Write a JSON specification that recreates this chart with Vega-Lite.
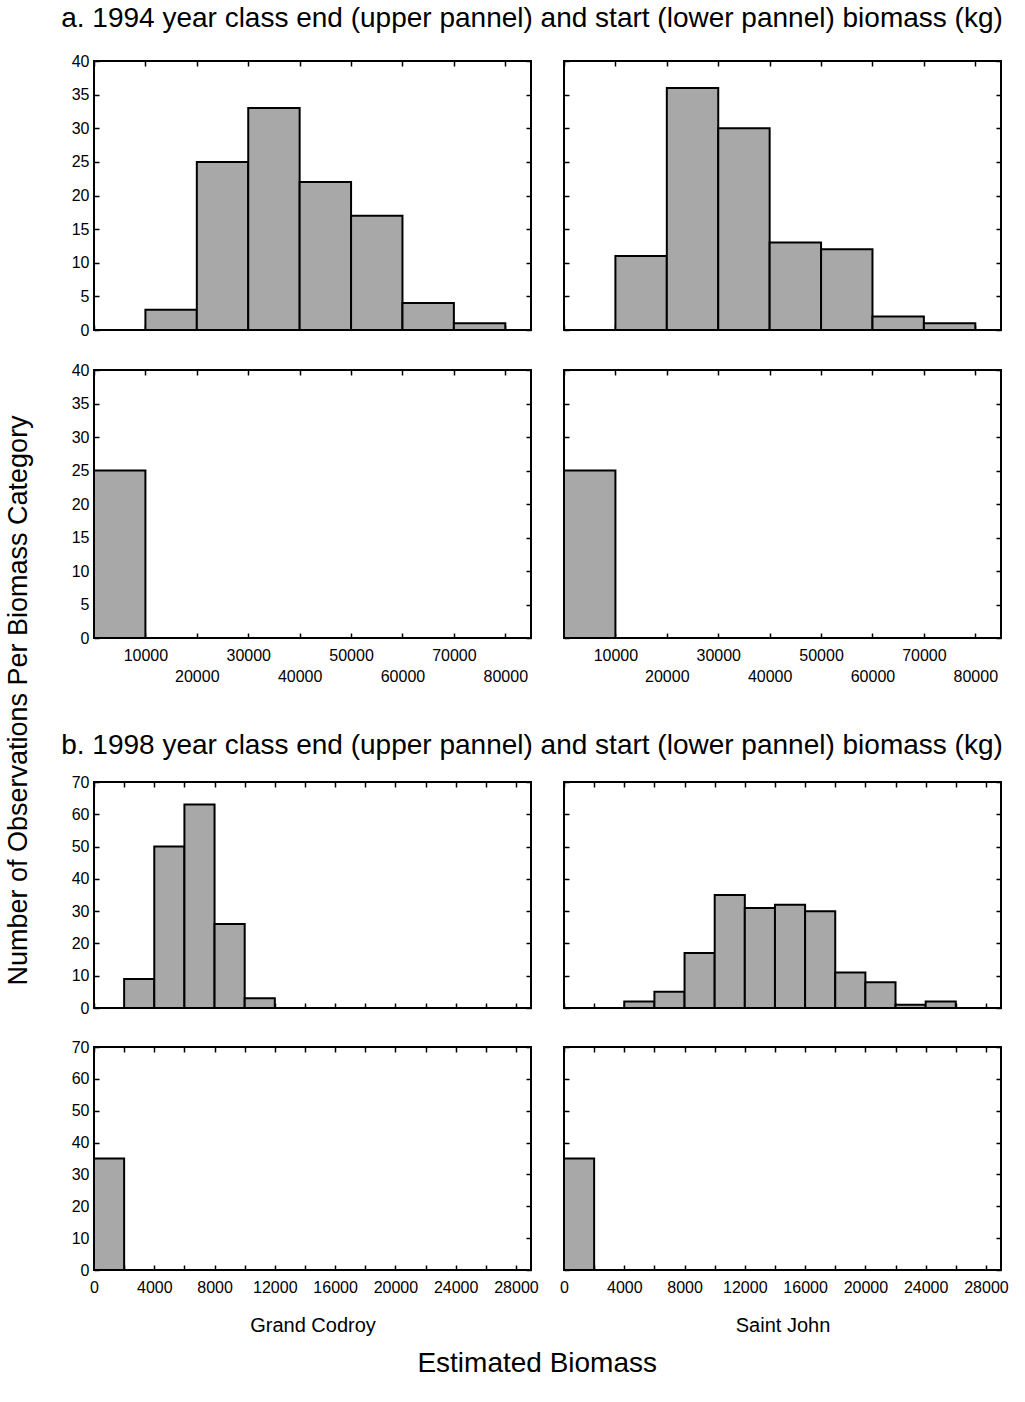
{
  "$schema": "https://vega.github.io/schema/vega-lite/v6.json",
  "padding": {"left": 5, "top": 5, "right": 10, "bottom": 5},
  "background": "white",
  "datasets": {
    "h": [
      {"p": "a1", "lo": 10000, "hi": 20000, "n": 3},
      {"p": "a1", "lo": 20000, "hi": 30000, "n": 25},
      {"p": "a1", "lo": 30000, "hi": 40000, "n": 33},
      {"p": "a1", "lo": 40000, "hi": 50000, "n": 22},
      {"p": "a1", "lo": 50000, "hi": 60000, "n": 17},
      {"p": "a1", "lo": 60000, "hi": 70000, "n": 4},
      {"p": "a1", "lo": 70000, "hi": 80000, "n": 1},
      {"p": "a2", "lo": 10000, "hi": 20000, "n": 11},
      {"p": "a2", "lo": 20000, "hi": 30000, "n": 36},
      {"p": "a2", "lo": 30000, "hi": 40000, "n": 30},
      {"p": "a2", "lo": 40000, "hi": 50000, "n": 13},
      {"p": "a2", "lo": 50000, "hi": 60000, "n": 12},
      {"p": "a2", "lo": 60000, "hi": 70000, "n": 2},
      {"p": "a2", "lo": 70000, "hi": 80000, "n": 1},
      {"p": "a3", "lo": 0, "hi": 10000, "n": 25},
      {"p": "a4", "lo": 0, "hi": 10000, "n": 25},
      {"p": "b1", "lo": 2000, "hi": 4000, "n": 9},
      {"p": "b1", "lo": 4000, "hi": 6000, "n": 50},
      {"p": "b1", "lo": 6000, "hi": 8000, "n": 63},
      {"p": "b1", "lo": 8000, "hi": 10000, "n": 26},
      {"p": "b1", "lo": 10000, "hi": 12000, "n": 3},
      {"p": "b2", "lo": 4000, "hi": 6000, "n": 2},
      {"p": "b2", "lo": 6000, "hi": 8000, "n": 5},
      {"p": "b2", "lo": 8000, "hi": 10000, "n": 17},
      {"p": "b2", "lo": 10000, "hi": 12000, "n": 35},
      {"p": "b2", "lo": 12000, "hi": 14000, "n": 31},
      {"p": "b2", "lo": 14000, "hi": 16000, "n": 32},
      {"p": "b2", "lo": 16000, "hi": 18000, "n": 30},
      {"p": "b2", "lo": 18000, "hi": 20000, "n": 11},
      {"p": "b2", "lo": 20000, "hi": 22000, "n": 8},
      {"p": "b2", "lo": 22000, "hi": 24000, "n": 1},
      {"p": "b2", "lo": 24000, "hi": 26000, "n": 2},
      {"p": "b3", "lo": 0, "hi": 2000, "n": 35},
      {"p": "b4", "lo": 0, "hi": 2000, "n": 35}
    ]
  },
  "title": {"text": "Estimated Biomass", "orient": "bottom", "anchor": "middle", "fontSize": 28, "offset": 14, "dx": 30},
  "vconcat": [
    {
      "title": {"text": "Number of Observations Per Biomass Category", "orient": "left", "anchor": "middle", "fontSize": 27, "offset": 28, "dx": -30},
      "spacing": 47,
      "vconcat": [
        {
          "title": {"text": "a. 1994 year class end (upper pannel) and start (lower pannel) biomass (kg)", "anchor": "start", "fontSize": 28, "offset": 19, "dx": -9},
          "spacing": 22,
          "vconcat": [
            {
              "spacing": 33, "bounds": "flush",
              "hconcat": [
                {
                  "width": 437, "height": 269,
                  "data": {"name": "h"},
                  "transform": [{"filter": "datum.p == 'a1'"}],
                  "layer": [
                    {"mark": {"type": "bar", "fill": "#a8a8a8", "stroke": "black", "strokeWidth": 2},
                     "encoding": {
                       "x": {"field": "lo", "type": "quantitative", "scale": {"domain": [0, 85000], "nice": false, "zero": false}, "axis": {"values": [0,10000,20000,30000,40000,50000,60000,70000,80000], "labels": false, "title": null}},
                       "x2": {"field": "hi"},
                       "y": {"field": "n", "type": "quantitative", "scale": {"domain": [0, 40], "nice": false}, "axis": {"values": [0,5,10,15,20,25,30,35,40], "title": null}},
                       "y2": {"datum": 0}
                     }},
                    {"mark": {"type": "bar", "opacity": 0},
                     "encoding": {
                       "x": {"field": "lo", "type": "quantitative", "scale": {"domain": [0, 85000], "nice": false, "zero": false}, "axis": {"orient": "top", "values": [0,10000,20000,30000,40000,50000,60000,70000,80000], "labels": false, "title": null}},
                       "x2": {"field": "hi"},
                       "y": {"field": "n", "type": "quantitative", "scale": {"domain": [0, 40], "nice": false}, "axis": {"orient": "right", "values": [0,5,10,15,20,25,30,35,40], "labels": false, "title": null}},
                       "y2": {"datum": 0}
                     }}
                  ],
                  "resolve": {"axis": {"x": "independent", "y": "independent"}}
                },
                {
                  "width": 437, "height": 269,
                  "data": {"name": "h"},
                  "transform": [{"filter": "datum.p == 'a2'"}],
                  "layer": [
                    {"mark": {"type": "bar", "fill": "#a8a8a8", "stroke": "black", "strokeWidth": 2},
                     "encoding": {
                       "x": {"field": "lo", "type": "quantitative", "scale": {"domain": [0, 85000], "nice": false, "zero": false}, "axis": {"values": [0,10000,20000,30000,40000,50000,60000,70000,80000], "labels": false, "title": null}},
                       "x2": {"field": "hi"},
                       "y": {"field": "n", "type": "quantitative", "scale": {"domain": [0, 40], "nice": false}, "axis": {"values": [0,5,10,15,20,25,30,35,40], "labels": false, "title": null}},
                       "y2": {"datum": 0}
                     }},
                    {"mark": {"type": "bar", "opacity": 0},
                     "encoding": {
                       "x": {"field": "lo", "type": "quantitative", "scale": {"domain": [0, 85000], "nice": false, "zero": false}, "axis": {"orient": "top", "values": [0,10000,20000,30000,40000,50000,60000,70000,80000], "labels": false, "title": null}},
                       "x2": {"field": "hi"},
                       "y": {"field": "n", "type": "quantitative", "scale": {"domain": [0, 40], "nice": false}, "axis": {"orient": "right", "values": [0,5,10,15,20,25,30,35,40], "labels": false, "title": null}},
                       "y2": {"datum": 0}
                     }}
                  ],
                  "resolve": {"axis": {"x": "independent", "y": "independent"}}
                }
              ]
            },
            {
              "spacing": 33, "bounds": "flush",
              "hconcat": [
                {
                  "width": 437, "height": 268,
                  "data": {"name": "h"},
                  "transform": [{"filter": "datum.p == 'a3'"}],
                  "layer": [
                    {"mark": {"type": "bar", "fill": "#a8a8a8", "stroke": "black", "strokeWidth": 2},
                     "encoding": {
                       "x": {"field": "lo", "type": "quantitative", "scale": {"domain": [0, 85000], "nice": false, "zero": false}, "axis": {"values": [0,10000,20000,30000,40000,50000,60000,70000,80000], "format": "d", "labelExpr": "datum.value == 0 ? '' : (datum.value % 20000 == 0 ? ['', datum.label] : datum.label)", "labelLineHeight": 21, "labelPadding": 14, "title": null}},
                       "x2": {"field": "hi"},
                       "y": {"field": "n", "type": "quantitative", "scale": {"domain": [0, 40], "nice": false}, "axis": {"values": [0,5,10,15,20,25,30,35,40], "title": null}},
                       "y2": {"datum": 0}
                     }},
                    {"mark": {"type": "bar", "opacity": 0},
                     "encoding": {
                       "x": {"field": "lo", "type": "quantitative", "scale": {"domain": [0, 85000], "nice": false, "zero": false}, "axis": {"orient": "top", "values": [0,10000,20000,30000,40000,50000,60000,70000,80000], "labels": false, "title": null}},
                       "x2": {"field": "hi"},
                       "y": {"field": "n", "type": "quantitative", "scale": {"domain": [0, 40], "nice": false}, "axis": {"orient": "right", "values": [0,5,10,15,20,25,30,35,40], "labels": false, "title": null}},
                       "y2": {"datum": 0}
                     }}
                  ],
                  "resolve": {"axis": {"x": "independent", "y": "independent"}}
                },
                {
                  "width": 437, "height": 268,
                  "data": {"name": "h"},
                  "transform": [{"filter": "datum.p == 'a4'"}],
                  "layer": [
                    {"mark": {"type": "bar", "fill": "#a8a8a8", "stroke": "black", "strokeWidth": 2},
                     "encoding": {
                       "x": {"field": "lo", "type": "quantitative", "scale": {"domain": [0, 85000], "nice": false, "zero": false}, "axis": {"values": [0,10000,20000,30000,40000,50000,60000,70000,80000], "format": "d", "labelExpr": "datum.value == 0 ? '' : (datum.value % 20000 == 0 ? ['', datum.label] : datum.label)", "labelLineHeight": 21, "labelPadding": 14, "title": null}},
                       "x2": {"field": "hi"},
                       "y": {"field": "n", "type": "quantitative", "scale": {"domain": [0, 40], "nice": false}, "axis": {"values": [0,5,10,15,20,25,30,35,40], "labels": false, "title": null}},
                       "y2": {"datum": 0}
                     }},
                    {"mark": {"type": "bar", "opacity": 0},
                     "encoding": {
                       "x": {"field": "lo", "type": "quantitative", "scale": {"domain": [0, 85000], "nice": false, "zero": false}, "axis": {"orient": "top", "values": [0,10000,20000,30000,40000,50000,60000,70000,80000], "labels": false, "title": null}},
                       "x2": {"field": "hi"},
                       "y": {"field": "n", "type": "quantitative", "scale": {"domain": [0, 40], "nice": false}, "axis": {"orient": "right", "values": [0,5,10,15,20,25,30,35,40], "labels": false, "title": null}},
                       "y2": {"datum": 0}
                     }}
                  ],
                  "resolve": {"axis": {"x": "independent", "y": "independent"}}
                }
              ]
            }
          ]
        },
        {
          "title": {"text": "b. 1998 year class end (upper pannel) and start (lower pannel) biomass (kg)", "anchor": "start", "fontSize": 28, "offset": 13, "dx": -9},
          "spacing": 21,
          "vconcat": [
            {
              "spacing": 33, "bounds": "flush",
              "hconcat": [
                {
                  "width": 437, "height": 226,
                  "data": {"name": "h"},
                  "transform": [{"filter": "datum.p == 'b1'"}],
                  "layer": [
                    {"mark": {"type": "bar", "fill": "#a8a8a8", "stroke": "black", "strokeWidth": 2},
                     "encoding": {
                       "x": {"field": "lo", "type": "quantitative", "scale": {"domain": [0, 29000], "nice": false, "zero": false}, "axis": {"values": [0,2000,4000,6000,8000,10000,12000,14000,16000,18000,20000,22000,24000,26000,28000], "labels": false, "title": null}},
                       "x2": {"field": "hi"},
                       "y": {"field": "n", "type": "quantitative", "scale": {"domain": [0, 70], "nice": false}, "axis": {"values": [0,10,20,30,40,50,60,70], "title": null}},
                       "y2": {"datum": 0}
                     }},
                    {"mark": {"type": "bar", "opacity": 0},
                     "encoding": {
                       "x": {"field": "lo", "type": "quantitative", "scale": {"domain": [0, 29000], "nice": false, "zero": false}, "axis": {"orient": "top", "values": [0,2000,4000,6000,8000,10000,12000,14000,16000,18000,20000,22000,24000,26000,28000], "labels": false, "title": null}},
                       "x2": {"field": "hi"},
                       "y": {"field": "n", "type": "quantitative", "scale": {"domain": [0, 70], "nice": false}, "axis": {"orient": "right", "values": [0,10,20,30,40,50,60,70], "labels": false, "title": null}},
                       "y2": {"datum": 0}
                     }}
                  ],
                  "resolve": {"axis": {"x": "independent", "y": "independent"}}
                },
                {
                  "width": 437, "height": 226,
                  "data": {"name": "h"},
                  "transform": [{"filter": "datum.p == 'b2'"}],
                  "layer": [
                    {"mark": {"type": "bar", "fill": "#a8a8a8", "stroke": "black", "strokeWidth": 2},
                     "encoding": {
                       "x": {"field": "lo", "type": "quantitative", "scale": {"domain": [0, 29000], "nice": false, "zero": false}, "axis": {"values": [0,2000,4000,6000,8000,10000,12000,14000,16000,18000,20000,22000,24000,26000,28000], "labels": false, "title": null}},
                       "x2": {"field": "hi"},
                       "y": {"field": "n", "type": "quantitative", "scale": {"domain": [0, 70], "nice": false}, "axis": {"values": [0,10,20,30,40,50,60,70], "labels": false, "title": null}},
                       "y2": {"datum": 0}
                     }},
                    {"mark": {"type": "bar", "opacity": 0},
                     "encoding": {
                       "x": {"field": "lo", "type": "quantitative", "scale": {"domain": [0, 29000], "nice": false, "zero": false}, "axis": {"orient": "top", "values": [0,2000,4000,6000,8000,10000,12000,14000,16000,18000,20000,22000,24000,26000,28000], "labels": false, "title": null}},
                       "x2": {"field": "hi"},
                       "y": {"field": "n", "type": "quantitative", "scale": {"domain": [0, 70], "nice": false}, "axis": {"orient": "right", "values": [0,10,20,30,40,50,60,70], "labels": false, "title": null}},
                       "y2": {"datum": 0}
                     }}
                  ],
                  "resolve": {"axis": {"x": "independent", "y": "independent"}}
                }
              ]
            },
            {
              "spacing": 33, "bounds": "flush",
              "hconcat": [
                {
                  "width": 437, "height": 223,
                  "data": {"name": "h"},
                  "transform": [{"filter": "datum.p == 'b3'"}],
                  "layer": [
                    {"mark": {"type": "bar", "fill": "#a8a8a8", "stroke": "black", "strokeWidth": 2},
                     "encoding": {
                       "x": {"field": "lo", "type": "quantitative", "scale": {"domain": [0, 29000], "nice": false, "zero": false}, "axis": {"values": [0,2000,4000,6000,8000,10000,12000,14000,16000,18000,20000,22000,24000,26000,28000], "format": "d", "labelExpr": "datum.value % 4000 == 0 ? datum.label : ''", "labelPadding": 14, "title": "Grand Codroy", "titleFontSize": 20, "titlePadding": 20}},
                       "x2": {"field": "hi"},
                       "y": {"field": "n", "type": "quantitative", "scale": {"domain": [0, 70], "nice": false}, "axis": {"values": [0,10,20,30,40,50,60,70], "title": null}},
                       "y2": {"datum": 0}
                     }},
                    {"mark": {"type": "bar", "opacity": 0},
                     "encoding": {
                       "x": {"field": "lo", "type": "quantitative", "scale": {"domain": [0, 29000], "nice": false, "zero": false}, "axis": {"orient": "top", "values": [0,2000,4000,6000,8000,10000,12000,14000,16000,18000,20000,22000,24000,26000,28000], "labels": false, "title": null}},
                       "x2": {"field": "hi"},
                       "y": {"field": "n", "type": "quantitative", "scale": {"domain": [0, 70], "nice": false}, "axis": {"orient": "right", "values": [0,10,20,30,40,50,60,70], "labels": false, "title": null}},
                       "y2": {"datum": 0}
                     }}
                  ],
                  "resolve": {"axis": {"x": "independent", "y": "independent"}}
                },
                {
                  "width": 437, "height": 223,
                  "data": {"name": "h"},
                  "transform": [{"filter": "datum.p == 'b4'"}],
                  "layer": [
                    {"mark": {"type": "bar", "fill": "#a8a8a8", "stroke": "black", "strokeWidth": 2},
                     "encoding": {
                       "x": {"field": "lo", "type": "quantitative", "scale": {"domain": [0, 29000], "nice": false, "zero": false}, "axis": {"values": [0,2000,4000,6000,8000,10000,12000,14000,16000,18000,20000,22000,24000,26000,28000], "format": "d", "labelExpr": "datum.value % 4000 == 0 ? datum.label : ''", "labelPadding": 14, "title": "Saint John", "titleFontSize": 20, "titlePadding": 20}},
                       "x2": {"field": "hi"},
                       "y": {"field": "n", "type": "quantitative", "scale": {"domain": [0, 70], "nice": false}, "axis": {"values": [0,10,20,30,40,50,60,70], "labels": false, "title": null}},
                       "y2": {"datum": 0}
                     }},
                    {"mark": {"type": "bar", "opacity": 0},
                     "encoding": {
                       "x": {"field": "lo", "type": "quantitative", "scale": {"domain": [0, 29000], "nice": false, "zero": false}, "axis": {"orient": "top", "values": [0,2000,4000,6000,8000,10000,12000,14000,16000,18000,20000,22000,24000,26000,28000], "labels": false, "title": null}},
                       "x2": {"field": "hi"},
                       "y": {"field": "n", "type": "quantitative", "scale": {"domain": [0, 70], "nice": false}, "axis": {"orient": "right", "values": [0,10,20,30,40,50,60,70], "labels": false, "title": null}},
                       "y2": {"datum": 0}
                     }}
                  ],
                  "resolve": {"axis": {"x": "independent", "y": "independent"}}
                }
              ]
            }
          ]
        }
      ]
    }
  ],
  "config": {
    "font": "Liberation Sans",
    "view": {"stroke": "black", "strokeWidth": 2},
    "axis": {"domain": false, "grid": false, "ticks": true, "tickColor": "black", "tickSize": -5, "tickWidth": 1.5, "labelFont": "Liberation Sans", "labelFontSize": 16, "labelColor": "black", "labelPadding": 10, "labelFlush": false, "labelOverlap": false, "titleFont": "Liberation Sans", "titleFontWeight": "normal", "titleColor": "black"},
    "title": {"font": "Liberation Sans", "fontWeight": "normal", "color": "black"}
  }
}
